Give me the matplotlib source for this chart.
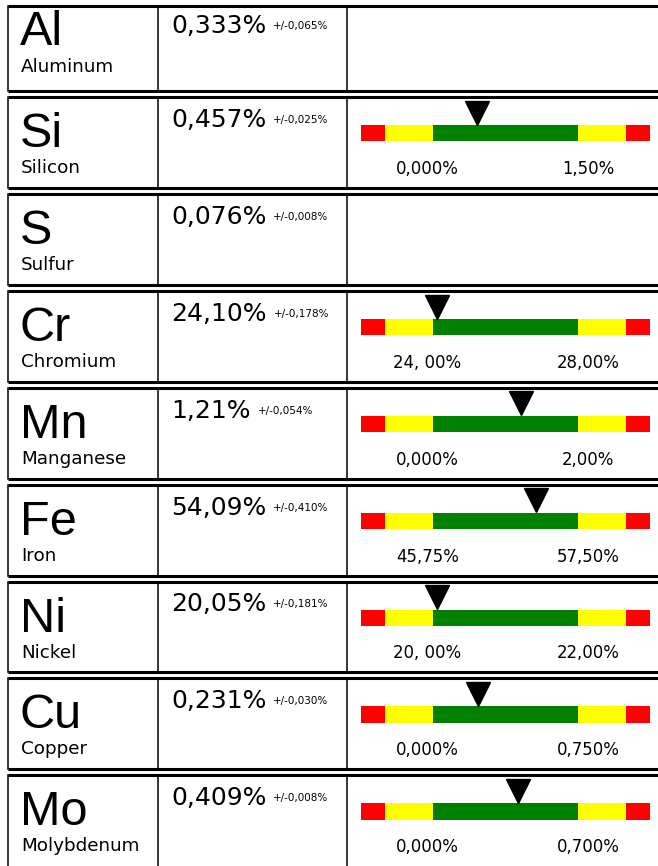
import matplotlib
matplotlib.use("Agg")
import matplotlib.pyplot as plt

# element data
symbols = ['Al', 'Si', 'S', 'Cr', 'Mn', 'Fe', 'Ni', 'Cu', 'Mo']
names = ['Aluminum', 'Silicon', 'Sulfur', 'Chromium', 'Manganese', 'Iron',
         'Nickel', 'Copper', 'Molybdenum']
values = [0.333, 0.457, 0.076, 24.10, 1.21, 54.09, 20.05, 0.231, 0.409]
value_labels = ['0,333%', '0,457%', '0,076%', '24,10%', '1,21%', '54,09%',
                '20,05%', '0,231%', '0,409%']
uncert_labels = ['+/-0,065%', '+/-0,025%', '+/-0,008%', '+/-0,178%',
                 '+/-0,054%', '+/-0,410%', '+/-0,181%', '+/-0,030%',
                 '+/-0,008%']
# spec limits (None = no gauge)
lo = [None, 0.0, None, 24.0, 0.0, 45.75, 20.0, 0.0, 0.0]
hi = [None, 1.5, None, 28.0, 2.0, 57.5, 22.0, 0.75, 0.7]
lo_labels = [None, '0,000%', None, '24, 00%', '0,000%', '45,75%', '20, 00%',
             '0,000%', '0,000%']
hi_labels = [None, '1,50%', None, '28,00%', '2,00%', '57,50%', '22,00%',
             '0,750%', '0,700%']

W, H = 658, 866
fig = plt.figure(figsize=(W / 100, H / 100), dpi=100)
bg = fig.add_axes([0, 0, 1, 1])
bg.set_xlim(0, W)
bg.set_ylim(H, 0)
bg.axis('off')

# row layout (pixels)
tops = [5.5] + [97 + 96.9 * i for i in range(len(symbols) - 1)]
x_left, x_div1, x_div2 = 7.5, 158, 347
bar_x0, bar_w = 361, 289

num_font = 'DejaVu Sans'
sym_font = 'Liberation Sans'

texts = []
for i, sym in enumerate(symbols):
    T = tops[i]
    last = i == len(symbols) - 1
    B = H + 5 if last else tops[i + 1] - 6
    if i == 0:
        off_sym, off_name, off_val, off_unc = 39.5, 66, 28, 23
    else:
        off_sym, off_name, off_val, off_unc = 50, 76, 30, 26

    # frame lines
    bg.plot([x_left, W + 5], [T, T], color='black', lw=2.2, solid_capstyle='butt')
    if not last:
        bg.plot([x_left, W + 5], [B, B], color='black', lw=2.2, solid_capstyle='butt')
    for xv in (x_left, x_div1, x_div2):
        bg.plot([xv, xv], [T, B], color='black', lw=1.1)

    bg.text(20, T + off_sym, sym, fontsize=35, family=sym_font, va='baseline')
    bg.text(21, T + off_name, names[i], fontsize=13.2, family=num_font, va='baseline')
    t = bg.text(171, T + off_val, value_labels[i], fontsize=18, family=num_font,
                va='baseline')
    texts.append((t, T + off_unc, uncert_labels[i]))

    if lo[i] is None:
        continue
    r = hi[i] - lo[i]
    edges = [lo[i] - r / 2, lo[i] - r / 3, lo[i], hi[i], hi[i] + r / 3, hi[i] + r / 2]
    colors = ['#ff0000', '#ffff00', '#008000', '#ffff00', '#ff0000']
    ax = fig.add_axes([bar_x0 / W, 1 - (T + 44.5) / H, bar_w / W, 41 / H])
    ax.set_xlim(edges[0], edges[-1])
    ax.set_ylim(41, 0)
    ax.axis('off')
    ax.barh(32.75, [edges[k + 1] - edges[k] for k in range(5)], left=edges[:5],
            height=16.5, color=colors)
    ax.plot(values[i], 12.25, marker='v', markersize=17.6, color='black',
            clip_on=False)
    bg.text(427.5, T + 77, lo_labels[i], fontsize=11.9, family=num_font,
            ha='center', va='baseline')
    bg.text(588, T + 77, hi_labels[i], fontsize=11.9, family=num_font,
            ha='center', va='baseline')

# uncertainty labels right after the value text
fig.canvas.draw()
rend = fig.canvas.get_renderer()
for t, y, lab in texts:
    bb = t.get_window_extent(rend)
    bg.text(bb.x1 + 7, y, lab, fontsize=7.5, family=num_font, va='baseline')

fig.savefig('out.png', dpi=100)
